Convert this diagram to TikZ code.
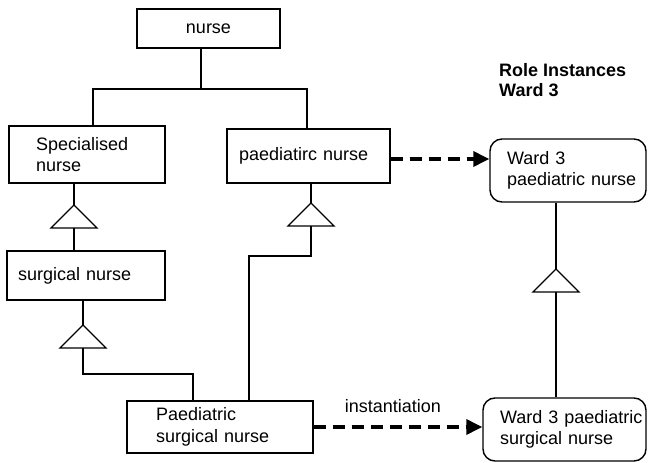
\documentclass[tikz,border=0pt]{standalone}
\usepackage{fontspec}
\setmainfont{Liberation Sans}
\usepackage{tikz}
\usetikzlibrary{arrows.meta,positioning}
\tikzset{
  rolebox/.style={draw=black, line width=1.4pt, align=left, minimum height=#1},
  instbox/.style={rolebox=#1, rounded corners=12pt},
  link/.style={draw=black, line width=1.4pt},
  darr/.style={-{Triangle[length=16pt,width=15pt]}, line width=3.5pt,
    dash pattern=on 12pt off 7pt},
  gen/.pic={
    \draw[link] (0,0) -- (-23,23) -- (23,23) -- cycle;
    \coordinate (-apex) at (0,0);
    \coordinate (-base) at (0,23);
  }
}

\begin{document}
\begin{tikzpicture}[x=1pt, y=-1pt, font=\fontsize{18}{21.5}\selectfont]
  \useasboundingbox (0,0) rectangle (649,463);

  % role types
  \node[rolebox=39pt, minimum width=143pt, align=center] (nurse) at (208.5,28.5) {nurse};
  \node[rolebox=57pt, inner xsep=27pt, text width=102pt] (spec) at (87,154.5) {Specialised\\nurse};
  \node[rolebox=54pt, inner xsep=12pt, text width=139pt] (paed) at (308.5,156) {paediatirc nurse};
  \node[rolebox=49pt, inner xsep=11pt, text width=136pt] (surg) at (86,275.5) {surgical nurse};
  \node[rolebox=52pt, inner xsep=29pt, text width=128pt] (pss) at (220,427) {Paediatric\\surgical nurse};

  % role instances
  \node[anchor=north west, inner sep=0pt, align=left, font=\fontsize{18}{20}\selectfont\bfseries] (title) at (499,63) {Role Instances\\Ward 3};
  \node[instbox=63pt, inner xsep=17pt, text width=122pt] (w1) at (568,170.5) {\mbox{Ward 3}\\\mbox{paediatric nurse}};
  \node[instbox=63pt, inner xsep=17pt, text width=129pt] (w2) at (564.5,429.5) {\mbox{Ward 3 paediatric}\\\mbox{surgical nurse}};

  % generalisations
  \coordinate (fork) at (201,89);
  \draw[link] ([xshift=-7.5pt]nurse.south) -- (fork);
  \draw[link] (fork) -| ([xshift=6pt]spec.north);
  \draw[link] (fork) -| ([xshift=-1.5pt]paed.north);

  \pic (g1) at (74,205) {gen};
  \draw[link] (spec.south -| g1-apex) -- (g1-apex);
  \draw[link] (g1-base) -- (g1-base |- surg.north);

  \pic (g2) at (83,325) {gen};
  \draw[link] (surg.south -| g2-apex) -- (g2-apex);
  \draw[link] (g2-base) -- ++(0,26) -| ([xshift=-27pt]pss.north);

  \pic (g3) at (311,203) {gen};
  \draw[link] (paed.south -| g3-apex) -- (g3-apex);
  \draw[link] (g3-base) -- ++(0,30) -| ([xshift=29pt]pss.north);

  \pic (g4) at (556,269) {gen};
  \draw[link] (w1.south -| g4-apex) -- (g4-apex);
  \draw[link] (g4-base) -- (g4-base |- w2.north);

  % instantiation
  \draw[darr] ([yshift=-3pt]paed.east) coordinate (p1) -- (p1 -| w1.west);
  \draw[darr] (pss.east) -- node[above=9pt, pos=0.47] (inst) {instantiation} (pss.east -| w2.west);
\end{tikzpicture}
\end{document}
